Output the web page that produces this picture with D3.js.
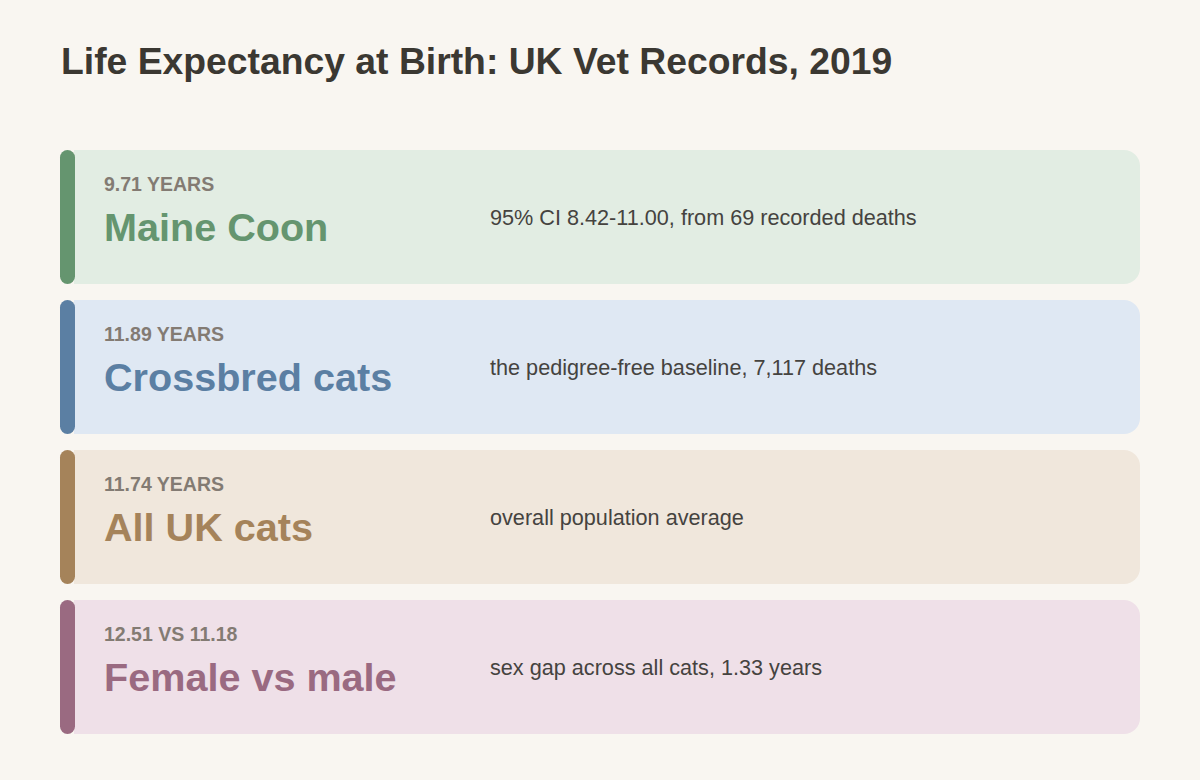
<!DOCTYPE html>
<html>
<head>
<meta charset="utf-8">
<script src="https://cdn.jsdelivr.net/npm/d3@7"></script>
<style>
  body { margin: 0; background: #f9f6f1; }
  svg { display: block; font-family: "Liberation Sans", Arial, sans-serif; }
</style>
</head>
<body>
<div id="chart"></div>
<script>
// card data
var names = ["Maine Coon", "Crossbred cats", "All UK cats", "Female vs male"];
var headlines = ["9.71 YEARS", "11.89 YEARS", "11.74 YEARS", "12.51 VS 11.18"];
var notes = [
  "95% CI 8.42-11.00, from 69 recorded deaths",
  "the pedigree-free baseline, 7,117 deaths",
  "overall population average",
  "sex gap across all cats, 1.33 years"
];
var accents = ["#65956f", "#5b7fa3", "#a5835a", "#9a6a81"];
var tints = ["#e2ede3", "#dfe8f3", "#f0e7dc", "#efe0e8"];

var width = 1200, height = 780;
var left = 60, right = 1140, barW = 15, r = 16;

var svg = d3.select("#chart").append("svg")
  .attr("width", width)
  .attr("height", height);

svg.append("text")
  .attr("x", 61)
  .attr("y", 74)
  .attr("fill", "#3b3832")
  .style("font-size", "37.3px")
  .style("font-weight", "bold")
  .text("Life Expectancy at Birth: UK Vet Records, 2019");

var y = d3.scaleBand()
  .domain(names)
  .range([150, 734])
  .paddingInner(16 / 150)
  .paddingOuter(0);

var h = y.bandwidth();

// card background: square on the left, rounded on the right
function cardPath() {
  var x0 = left + barW - 1, x1 = right, y0 = 0, y1 = h;
  return "M" + x0 + "," + y0 +
    "H" + (x1 - r) +
    "A" + r + "," + r + " 0 0 1 " + x1 + "," + (y0 + r) +
    "V" + (y1 - r) +
    "A" + r + "," + r + " 0 0 1 " + (x1 - r) + "," + y1 +
    "H" + x0 + "Z";
}

var g = svg.selectAll("g.card")
  .data(names)
  .enter().append("g")
  .attr("class", "card")
  .attr("transform", function (d) { return "translate(0," + y(d) + ")"; });

g.append("path")
  .attr("d", cardPath())
  .attr("fill", function (d, i) { return tints[i]; });

g.append("rect")
  .attr("x", left)
  .attr("y", 0)
  .attr("width", barW)
  .attr("height", h)
  .attr("rx", barW / 2)
  .attr("fill", function (d, i) { return accents[i]; });

g.append("text")
  .attr("x", 104)
  .attr("y", 41)
  .attr("fill", "#837b73")
  .style("font-size", "19.5px")
  .style("font-weight", "bold")
  .text(function (d, i) { return headlines[i]; });

g.append("text")
  .attr("x", 104)
  .attr("y", 91)
  .attr("fill", function (d, i) { return accents[i]; })
  .style("font-size", "39.6px")
  .style("font-weight", "bold")
  .text(function (d) { return d; });

g.append("text")
  .attr("x", 490)
  .attr("y", h / 2 + 8)
  .attr("fill", "#45433f")
  .style("font-size", "21.65px")
  .text(function (d, i) { return notes[i]; });
</script>
</body>
</html>
